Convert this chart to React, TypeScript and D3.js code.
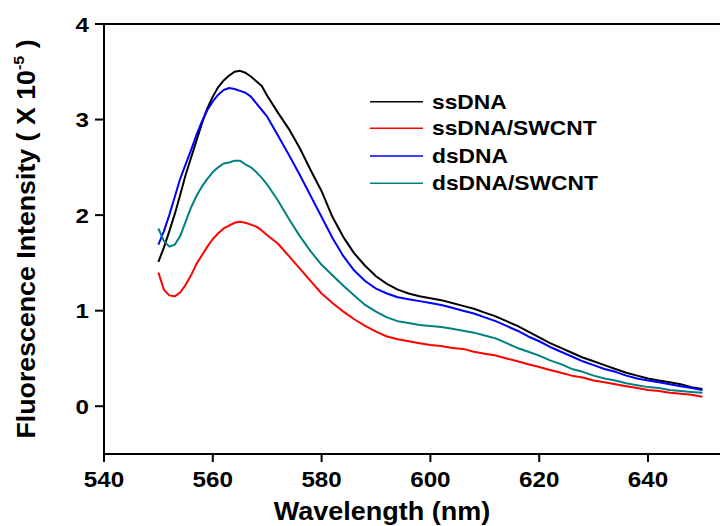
import React from "react";
import * as d3 from "d3";

const wavelengths = [
  550, 551, 552, 553, 554, 555, 556, 557, 558, 559, 560, 561, 562, 563, 564, 565, 566, 567, 568, 569, 570,
  572, 574, 576, 578, 580, 582, 584, 586, 588, 590, 592, 594, 596, 598, 600, 602, 604, 606, 608, 610,
  612, 614, 616, 618, 620, 622, 624, 626, 628, 630, 632, 634, 636, 638, 640, 642, 644, 646, 648, 650,
];

const ssDNA = [
  1.51, 1.66, 1.83, 2.01, 2.21, 2.42, 2.6, 2.78, 2.96, 3.12, 3.24, 3.34, 3.41, 3.46, 3.5, 3.51, 3.49, 3.45, 3.4, 3.35, 3.25,
  3.07, 2.9, 2.7, 2.47, 2.25, 1.98, 1.77, 1.6, 1.47, 1.36, 1.28, 1.22, 1.18, 1.15, 1.13, 1.11, 1.08, 1.05, 1.02, 0.98,
  0.94, 0.89, 0.84, 0.78, 0.72, 0.66, 0.61, 0.56, 0.51, 0.47, 0.43, 0.39, 0.35, 0.32, 0.29, 0.27, 0.25, 0.23, 0.2, 0.18,
];

const ssDNA_SWCNT = [
  1.4, 1.22, 1.16, 1.15, 1.19, 1.27, 1.37, 1.49, 1.58, 1.67, 1.75, 1.81, 1.86, 1.89, 1.92, 1.93, 1.92, 1.9, 1.88, 1.84, 1.79,
  1.7, 1.57, 1.44, 1.31, 1.18, 1.08, 0.99, 0.91, 0.84, 0.78, 0.73, 0.7, 0.68, 0.66, 0.64, 0.63, 0.61, 0.6, 0.57, 0.55,
  0.53, 0.5, 0.47, 0.44, 0.41, 0.38, 0.35, 0.32, 0.3, 0.27, 0.25, 0.23, 0.21, 0.19, 0.17, 0.16, 0.14, 0.13, 0.12, 0.1,
];

const dsDNA = [
  1.69, 1.83, 2.0, 2.19, 2.38, 2.53, 2.68, 2.84, 2.98, 3.1, 3.19, 3.26, 3.31, 3.33, 3.32, 3.3, 3.28, 3.24, 3.17, 3.1, 3.03,
  2.83, 2.63, 2.42, 2.2, 1.98, 1.76, 1.57, 1.42, 1.31, 1.23, 1.18, 1.14, 1.12, 1.1, 1.08, 1.06, 1.03, 1.0, 0.97, 0.93,
  0.89, 0.84, 0.79, 0.73, 0.68, 0.62, 0.57, 0.52, 0.47, 0.43, 0.39, 0.36, 0.32, 0.29, 0.27, 0.25, 0.23, 0.21, 0.19, 0.17,
];

const dsDNA_SWCNT = [
  1.86, 1.73, 1.67, 1.69, 1.78, 1.93, 2.08, 2.2, 2.3, 2.38, 2.45, 2.5, 2.54, 2.55, 2.57, 2.57, 2.53, 2.5, 2.45, 2.39, 2.32,
  2.15, 1.96, 1.78, 1.62, 1.48, 1.37, 1.26, 1.16, 1.06, 0.99, 0.93, 0.89, 0.87, 0.85, 0.84, 0.83, 0.81, 0.79, 0.77, 0.74,
  0.71, 0.66, 0.61, 0.57, 0.53, 0.48, 0.44, 0.39, 0.36, 0.32, 0.29, 0.27, 0.24, 0.22, 0.2, 0.19, 0.17, 0.16, 0.15, 0.14,
];

const seriesNames = ["ssDNA", "ssDNA/SWCNT", "dsDNA", "dsDNA/SWCNT"];
const seriesColors = ["#000000", "#ff0000", "#0000ff", "#008080"];
const seriesValues = [ssDNA, ssDNA_SWCNT, dsDNA, dsDNA_SWCNT];

const xTicks = [540, 560, 580, 600, 620, 640];
const yTicks = [0, 1, 2, 3, 4];

const FONT = "'Liberation Sans', Arial, Helvetica, sans-serif";

export default function App() {
  const W = 720;
  const H = 526;
  const x = d3.scaleLinear().domain([540, 660]).range([104, 104 + 120 * 5.44]);
  const y = d3.scaleLinear().domain([-0.5, 4]).range([454, 24]);
  const line = d3
    .line<number>()
    .x((_, i) => x(wavelengths[i]))
    .y((d) => y(d));

  const legendX0 = 370;
  const legendX1 = 423;
  const legendY = [101.7, 128.3, 156, 183.3];

  return (
    <svg
      width={W}
      height={H}
      style={{ position: "absolute", left: 0, top: 0, background: "#fff" }}
      fontFamily={FONT}
      fontWeight="bold"
    >
      <rect x={0} y={0} width={W} height={H} fill="#fff" />
      {/* frame */}
      <line x1={x(540)} x2={W} y1={y(4)} y2={y(4)} stroke="#000" strokeWidth={2} />
      <line x1={x(540)} x2={W} y1={y(-0.5)} y2={y(-0.5)} stroke="#000" strokeWidth={2} />
      <line x1={x(540)} x2={x(540)} y1={y(4) - 1} y2={y(-0.5) + 1} stroke="#000" strokeWidth={2} />

      {/* x ticks */}
      {xTicks.map((t) => (
        <g key={"xt" + t} transform={`translate(${x(t)},0)`}>
          <line x1={0} x2={0} y1={y(-0.5)} y2={y(-0.5) + 8} stroke="#000" strokeWidth={2} />
          <text
            transform={`translate(0,${487}) scale(1.1,1)`}
            textAnchor="middle"
            fontSize={22}
            fill="#000"
          >
            {t}
          </text>
        </g>
      ))}

      {/* y ticks */}
      {yTicks.map((t) => (
        <g key={"yt" + t} transform={`translate(0,${y(t)})`}>
          <line x1={x(540) - 9} x2={x(540)} y1={0} y2={0} stroke="#000" strokeWidth={2} />
          <text
            transform={`translate(89,7.5) scale(1.15,1)`}
            textAnchor="end"
            fontSize={21}
            fill="#000"
          >
            {t}
          </text>
        </g>
      ))}

      {/* axis titles */}
      <text
        transform={`translate(382,520) scale(1.08,1)`}
        textAnchor="middle"
        fontSize={25}
        fill="#000"
      >
        Wavelength (nm)
      </text>
      <text
        transform={`translate(35,239) rotate(-90) scale(1.07,1)`}
        textAnchor="middle"
        fontSize={25}
        fill="#000"
      >
        Fluorescence Intensity ( X 10
        <tspan fontSize={15} dy={-11}>-5</tspan>
        <tspan dy={11}> )</tspan>
      </text>

      {/* series */}
      {seriesValues.map((vals, i) => (
        <path
          key={seriesNames[i]}
          d={line(vals) || ""}
          fill="none"
          stroke={seriesColors[i]}
          strokeWidth={2}
          strokeLinejoin="round"
        />
      ))}

      {/* legend */}
      {seriesNames.map((n, i) => (
        <g key={"lg" + n}>
          <line
            x1={legendX0}
            x2={legendX1}
            y1={legendY[i]}
            y2={legendY[i]}
            stroke={seriesColors[i]}
            strokeWidth={1.6}
          />
          <text
            transform={`translate(432,${legendY[i] + 7}) scale(1.14,1)`}
            fontSize={20}
            fill="#000"
          >
            {n}
          </text>
        </g>
      ))}
    </svg>
  );
}
